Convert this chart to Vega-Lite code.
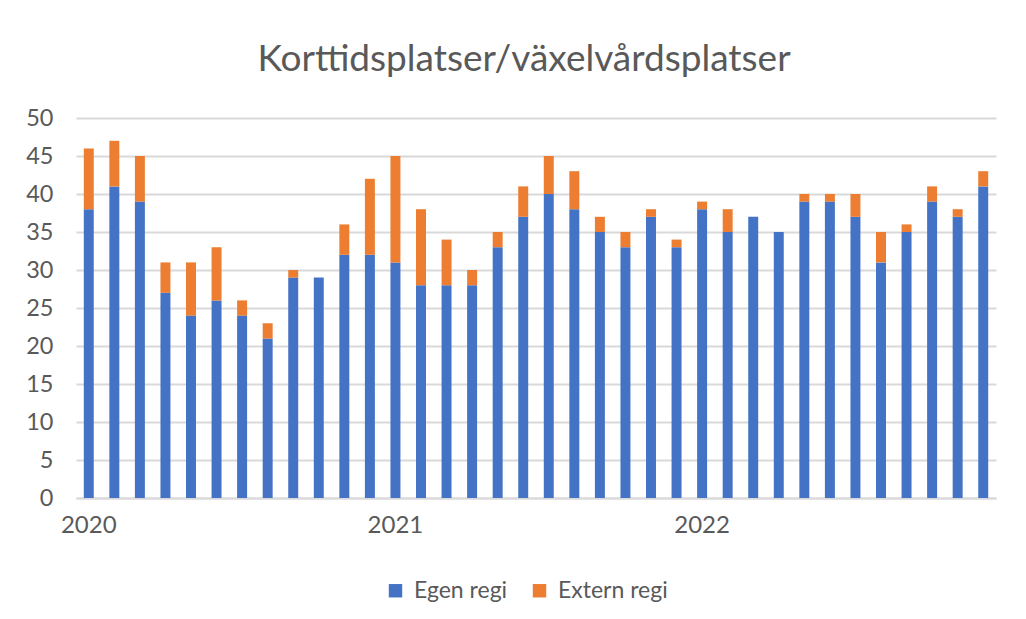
{
  "$schema": "https://vega.github.io/schema/vega-lite/v6.json",
  "width": 920,
  "height": 380,
  "autosize": {"type": "none"},
  "padding": {"left": 76, "top": 118, "right": 30, "bottom": 121},
  "background": "white",
  "title": {
    "text": "Korttidsplatser/växelvårdsplatser",
    "font": "Lato",
    "fontSize": 37,
    "fontWeight": "normal",
    "color": "#595959",
    "anchor": "middle",
    "dx": -12,
    "offset": 27
  },
  "config": {
    "view": {"stroke": null},
    "font": "Lato"
  },
  "data": {
    "values": [
      {"manad": "2020-01", "typ": "Egen regi", "antal": 38}, {"manad": "2020-01", "typ": "Extern regi", "antal": 8},
      {"manad": "2020-02", "typ": "Egen regi", "antal": 41}, {"manad": "2020-02", "typ": "Extern regi", "antal": 6},
      {"manad": "2020-03", "typ": "Egen regi", "antal": 39}, {"manad": "2020-03", "typ": "Extern regi", "antal": 6},
      {"manad": "2020-04", "typ": "Egen regi", "antal": 27}, {"manad": "2020-04", "typ": "Extern regi", "antal": 4},
      {"manad": "2020-05", "typ": "Egen regi", "antal": 24}, {"manad": "2020-05", "typ": "Extern regi", "antal": 7},
      {"manad": "2020-06", "typ": "Egen regi", "antal": 26}, {"manad": "2020-06", "typ": "Extern regi", "antal": 7},
      {"manad": "2020-07", "typ": "Egen regi", "antal": 24}, {"manad": "2020-07", "typ": "Extern regi", "antal": 2},
      {"manad": "2020-08", "typ": "Egen regi", "antal": 21}, {"manad": "2020-08", "typ": "Extern regi", "antal": 2},
      {"manad": "2020-09", "typ": "Egen regi", "antal": 29}, {"manad": "2020-09", "typ": "Extern regi", "antal": 1},
      {"manad": "2020-10", "typ": "Egen regi", "antal": 29}, {"manad": "2020-10", "typ": "Extern regi", "antal": 0},
      {"manad": "2020-11", "typ": "Egen regi", "antal": 32}, {"manad": "2020-11", "typ": "Extern regi", "antal": 4},
      {"manad": "2020-12", "typ": "Egen regi", "antal": 32}, {"manad": "2020-12", "typ": "Extern regi", "antal": 10},
      {"manad": "2021-01", "typ": "Egen regi", "antal": 31}, {"manad": "2021-01", "typ": "Extern regi", "antal": 14},
      {"manad": "2021-02", "typ": "Egen regi", "antal": 28}, {"manad": "2021-02", "typ": "Extern regi", "antal": 10},
      {"manad": "2021-03", "typ": "Egen regi", "antal": 28}, {"manad": "2021-03", "typ": "Extern regi", "antal": 6},
      {"manad": "2021-04", "typ": "Egen regi", "antal": 28}, {"manad": "2021-04", "typ": "Extern regi", "antal": 2},
      {"manad": "2021-05", "typ": "Egen regi", "antal": 33}, {"manad": "2021-05", "typ": "Extern regi", "antal": 2},
      {"manad": "2021-06", "typ": "Egen regi", "antal": 37}, {"manad": "2021-06", "typ": "Extern regi", "antal": 4},
      {"manad": "2021-07", "typ": "Egen regi", "antal": 40}, {"manad": "2021-07", "typ": "Extern regi", "antal": 5},
      {"manad": "2021-08", "typ": "Egen regi", "antal": 38}, {"manad": "2021-08", "typ": "Extern regi", "antal": 5},
      {"manad": "2021-09", "typ": "Egen regi", "antal": 35}, {"manad": "2021-09", "typ": "Extern regi", "antal": 2},
      {"manad": "2021-10", "typ": "Egen regi", "antal": 33}, {"manad": "2021-10", "typ": "Extern regi", "antal": 2},
      {"manad": "2021-11", "typ": "Egen regi", "antal": 37}, {"manad": "2021-11", "typ": "Extern regi", "antal": 1},
      {"manad": "2021-12", "typ": "Egen regi", "antal": 33}, {"manad": "2021-12", "typ": "Extern regi", "antal": 1},
      {"manad": "2022-01", "typ": "Egen regi", "antal": 38}, {"manad": "2022-01", "typ": "Extern regi", "antal": 1},
      {"manad": "2022-02", "typ": "Egen regi", "antal": 35}, {"manad": "2022-02", "typ": "Extern regi", "antal": 3},
      {"manad": "2022-03", "typ": "Egen regi", "antal": 37}, {"manad": "2022-03", "typ": "Extern regi", "antal": 0},
      {"manad": "2022-04", "typ": "Egen regi", "antal": 35}, {"manad": "2022-04", "typ": "Extern regi", "antal": 0},
      {"manad": "2022-05", "typ": "Egen regi", "antal": 39}, {"manad": "2022-05", "typ": "Extern regi", "antal": 1},
      {"manad": "2022-06", "typ": "Egen regi", "antal": 39}, {"manad": "2022-06", "typ": "Extern regi", "antal": 1},
      {"manad": "2022-07", "typ": "Egen regi", "antal": 37}, {"manad": "2022-07", "typ": "Extern regi", "antal": 3},
      {"manad": "2022-08", "typ": "Egen regi", "antal": 31}, {"manad": "2022-08", "typ": "Extern regi", "antal": 4},
      {"manad": "2022-09", "typ": "Egen regi", "antal": 35}, {"manad": "2022-09", "typ": "Extern regi", "antal": 1},
      {"manad": "2022-10", "typ": "Egen regi", "antal": 39}, {"manad": "2022-10", "typ": "Extern regi", "antal": 2},
      {"manad": "2022-11", "typ": "Egen regi", "antal": 37}, {"manad": "2022-11", "typ": "Extern regi", "antal": 1},
      {"manad": "2022-12", "typ": "Egen regi", "antal": 41}, {"manad": "2022-12", "typ": "Extern regi", "antal": 2}
    ]
  },
  "mark": {"type": "bar"},
  "encoding": {
    "x": {
      "field": "manad",
      "type": "ordinal",
      "scale": {"paddingInner": 0.61, "paddingOuter": 0.305},
      "axis": {
        "title": null,
        "labelAngle": 0,
        "labelExpr": "substring(datum.value, 5, 7) == '01' ? substring(datum.value, 0, 4) : ''",
        "ticks": false,
        "domainColor": "#d9d9d9",
        "domainWidth": 2,
        "labelFontSize": 24,
        "labelColor": "#595959",
        "labelPadding": 15,
        "labelFont": "Lato"
      }
    },
    "y": {
      "field": "antal",
      "type": "quantitative",
      "stack": "zero",
      "scale": {"domain": [0, 50], "nice": false},
      "axis": {
        "title": null,
        "values": [0, 5, 10, 15, 20, 25, 30, 35, 40, 45, 50],
        "ticks": false,
        "domain": false,
        "gridColor": "#d9d9d9",
        "gridWidth": 2,
        "labelFontSize": 23.5,
        "labelColor": "#595959",
        "labelPadding": 23,
        "labelFont": "Lato"
      }
    },
    "color": {
      "field": "typ",
      "type": "nominal",
      "scale": {"domain": ["Egen regi", "Extern regi"], "range": ["#4472C4", "#ED7D31"]},
      "legend": {
        "title": null,
        "orient": "none",
        "legendX": 308,
        "legendY": 461,
        "direction": "horizontal",
        "symbolType": "square",
        "symbolSize": 180,
        "symbolStrokeWidth": 0,
        "labelFontSize": 23,
        "labelColor": "#595959",
        "labelFont": "Lato",
        "labelOffset": 7,
        "columnPadding": 20
      }
    },
    "order": {"field": "typ", "sort": "ascending"}
  }
}
